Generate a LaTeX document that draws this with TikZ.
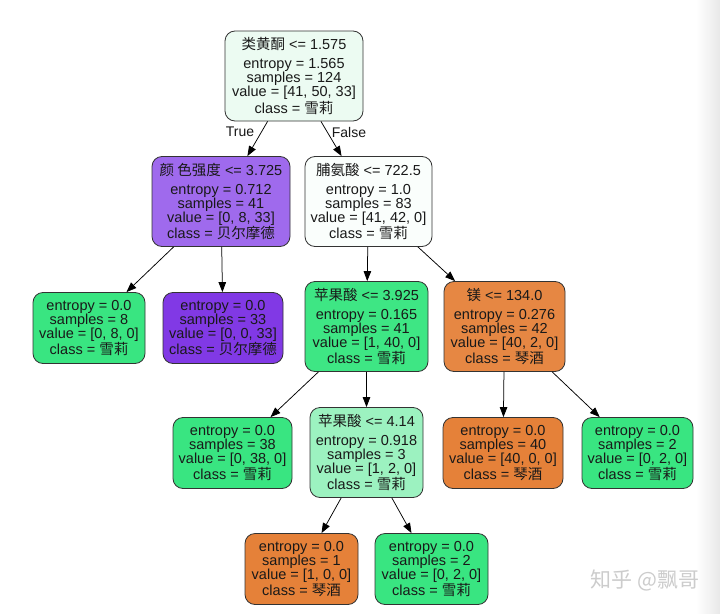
\documentclass[tikz,border=0pt]{standalone}
\usepackage{fontspec}
\setmainfont{Liberation Sans}
\newfontfamily\cjk{Noto Sans CJK SC}
\usetikzlibrary{arrows.meta}
\newcommand{\zhc}[1]{{\cjk #1}}
\definecolor{cRoot}{RGB}{236,251,242}
\definecolor{cPurpleMid}{RGB}{159,106,237}
\definecolor{cWhiteish}{RGB}{250,254,252}
\definecolor{cGreen}{RGB}{57,229,129}
\definecolor{cGreenA}{RGB}{62,230,132}
\definecolor{cGreenLight}{RGB}{156,242,192}
\definecolor{cPurple}{RGB}{129,57,229}
\definecolor{cOrange}{RGB}{229,129,57}
\definecolor{cOrangeA}{RGB}{230,135,67}
\begin{document}
\begin{tikzpicture}[x=1pt,y=-1pt,
  tnode/.style={draw=black!80, line width=0.8pt, rounded corners=10pt, align=center,
    inner sep=0pt, font=\fontsize{14.5}{14}\selectfont, text=black!90},
  innernode/.style={tnode, minimum height=90pt},
  leafnode/.style={tnode, minimum height=71pt},
  edge/.style={-{Triangle[length=10pt,width=7.5pt]}, line width=0.75pt},
  elabel/.style={font=\fontsize{14}{14}\selectfont, text=black!90, inner sep=0pt}]
\useasboundingbox (0,0) rectangle (720,613);
\fill[white] (0,0) rectangle (720,613);
\shade[left color=white, right color=black!9] (696,0) rectangle (720,613);

\node[innernode, fill=cRoot, minimum width=138pt] (root) at (294,76)
  {\zhc{类黄酮} <= 1.575\\[5pt] entropy = 1.565\\ samples = 124\\ value = [41, 50, 33]\\ class = \zhc{雪莉}};
\node[innernode, fill=cPurpleMid, minimum width=138pt] (n2) at (221,201.5)
  {\zhc{颜 色强度} <= 3.725\\[5pt] entropy = 0.712\\ samples = 41\\ value = [0, 8, 33]\\ class = \zhc{贝尔摩德}};
\node[innernode, fill=cWhiteish, minimum width=127pt] (n3) at (368.5,201.5)
  {\zhc{脯氨酸} <= 722.5\\[5pt] entropy = 1.0\\ samples = 83\\ value = [41, 42, 0]\\ class = \zhc{雪莉}};
\node[leafnode, fill=cGreen, minimum width=112pt] (n4) at (89,328)
  {entropy = 0.0\\ samples = 8\\ value = [0, 8, 0]\\ class = \zhc{雪莉}};
\node[leafnode, fill=cPurple, minimum width=120pt] (n5) at (223,328)
  {entropy = 0.0\\ samples = 33\\ value = [0, 0, 33]\\ class = \zhc{贝尔摩德}};
\node[innernode, fill=cGreenA, minimum width=123pt] (n6) at (366.5,326.5)
  {\zhc{苹果酸} <= 3.925\\[5pt] entropy = 0.165\\ samples = 41\\ value = [1, 40, 0]\\ class = \zhc{雪莉}};
\node[innernode, fill=cOrangeA, minimum width=121pt] (n7) at (504.5,326.5)
  {\zhc{镁} <= 134.0\\[5pt] entropy = 0.276\\ samples = 42\\ value = [40, 2, 0]\\ class = \zhc{琴酒}};
\node[leafnode, fill=cGreen, minimum width=119pt] (n8) at (232.5,453)
  {entropy = 0.0\\ samples = 38\\ value = [0, 38, 0]\\ class = \zhc{雪莉}};
\node[innernode, fill=cGreenLight, minimum width=113pt] (n9) at (366.5,452.5)
  {\zhc{苹果酸} <= 4.14\\[5pt] entropy = 0.918\\ samples = 3\\ value = [1, 2, 0]\\ class = \zhc{雪莉}};
\node[leafnode, fill=cOrange, minimum width=120pt] (n10) at (503,453)
  {entropy = 0.0\\ samples = 40\\ value = [40, 0, 0]\\ class = \zhc{琴酒}};
\node[leafnode, fill=cGreen, minimum width=111pt] (n11) at (637.5,453)
  {entropy = 0.0\\ samples = 2\\ value = [0, 2, 0]\\ class = \zhc{雪莉}};
\node[leafnode, fill=cOrange, minimum width=113pt] (n12) at (301.5,569)
  {entropy = 0.0\\ samples = 1\\ value = [1, 0, 0]\\ class = \zhc{琴酒}};
\node[leafnode, fill=cGreen, minimum width=113pt] (n13) at (431.5,569)
  {entropy = 0.0\\ samples = 2\\ value = [0, 2, 0]\\ class = \zhc{雪莉}};

\draw[edge] (root) -- (n2);
\draw[edge] (root) -- (n3);
\draw[edge] (n2) -- (n4);
\draw[edge] (n2) -- (n5);
\draw[edge] (n3) -- (n6);
\draw[edge] (n3) -- (n7);
\draw[edge] (n6) -- (n8);
\draw[edge] (n6) -- (n9);
\draw[edge] (n7) -- (n10);
\draw[edge] (n7) -- (n11);
\draw[edge] (n9) -- (n12);
\draw[edge] (n9) -- (n13);

\node[elabel] (ltrue) at (240,132) {True};
\node[elabel] (lfalse) at (349,132) {False};

\node[text=black!20, font=\cjk\fontsize{21}{21}\selectfont, inner sep=0pt] (wm) at (645,580) {知乎 @飘哥};
\end{tikzpicture}
\end{document}
